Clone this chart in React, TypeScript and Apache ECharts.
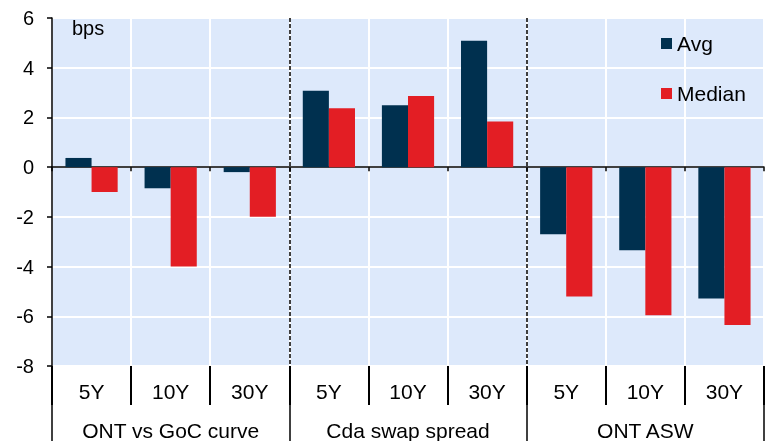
import React, { useEffect, useRef } from "react";
import * as echarts from "echarts";

const groups = ["ONT vs GoC curve", "Cda swap spread", "ONT ASW"];
const tenors = ["5Y", "10Y", "30Y"];
const categories = groups.flatMap((g) => tenors.map((t) => g + "|" + t));
const avgValues = [0.37, -0.85, -0.2, 3.07, 2.49, 5.08, -2.7, -3.34, -5.28];
const medianValues = [-1.0, -4.0, -2.0, 2.37, 2.86, 1.84, -5.2, -5.96, -6.35];
const yTicks = { min: -8, max: 6, interval: 2 };
const unitLabel = "bps";

const FONT = "'Liberation Sans', Arial, sans-serif";

export default function App() {
  const ref = useRef<HTMLDivElement>(null);
  useEffect(() => {
    if (!ref.current) return;
    const chart = echarts.init(ref.current, null, { renderer: "svg" });
    chart.setOption({
      animation: false,
      textStyle: { fontFamily: FONT },
      grid: {
        left: 52,
        top: 18,
        width: 712,
        height: 351,
        show: true,
        backgroundColor: "#dde9fb",
        borderWidth: 0,
      },
      legend: {
        orient: "vertical",
        left: 661,
        top: 33,
        padding: 0,
        itemWidth: 11,
        itemHeight: 11,
        itemGap: 29,
        icon: "rect",
        textStyle: { fontSize: 21, color: "#000", fontFamily: FONT },
        data: ["Avg", "Median"],
      },
      graphic: [
        {
          type: "text",
          left: 72,
          top: 18,
          style: { text: unitLabel, fontSize: 20, fill: "#000", fontFamily: FONT },
        },
      ],
      xAxis: [
        {
          type: "category",
          data: categories,
          position: "bottom",
          axisLine: { show: false, onZero: false },
          axisTick: {
            show: true,
            interval: 0,
            length: 39,
            lineStyle: { color: "#000", width: 2 },
          },
          axisLabel: {
            interval: 0,
            margin: 15,
            fontSize: 21,
            color: "#000",
            fontFamily: FONT,
            formatter: (v: string) => v.split("|")[1],
          },
          splitLine: {
            show: true,
            interval: 0,
            lineStyle: { color: "#ffffff", width: 2 },
          },
        },
        {
          type: "category",
          data: groups,
          position: "bottom",
          offset: 39,
          axisLine: { show: false, onZero: false },
          axisTick: {
            show: true,
            interval: 0,
            length: 40,
            lineStyle: { color: "#000", width: 1.5 },
          },
          axisLabel: {
            interval: 0,
            margin: 15,
            fontSize: 21,
            color: "#000",
            fontFamily: FONT,
          },
          splitLine: {
            show: true,
            interval: 0,
            showMinLine: false,
            showMaxLine: false,
            lineStyle: { color: "#000", width: 1.5, type: [4, 2] },
          },
        },
        {
          type: "category",
          data: categories,
          position: "bottom",
          axisLine: { show: true, onZero: true, lineStyle: { color: "#000", width: 1.5 } },
          axisTick: {
            show: true,
            interval: 0,
            length: 4,
            lineStyle: { color: "#000", width: 1.5 },
          },
          axisLabel: { show: false },
          splitLine: { show: false },
        },
      ],
      yAxis: {
        type: "value",
        min: yTicks.min,
        max: yTicks.max,
        interval: yTicks.interval,
        axisLine: { show: true, onZero: false, lineStyle: { color: "#000", width: 1.5 } },
        axisTick: { show: true, length: 5, lineStyle: { color: "#000", width: 1.5 } },
        axisLabel: { fontSize: 20, color: "#000", margin: 18, fontFamily: FONT },
        splitLine: { show: true, lineStyle: { color: "#ffffff", width: 2 } },
      },
      series: [
        {
          name: "Avg",
          type: "bar",
          xAxisIndex: 0,
          data: avgValues,
          barGap: "0%",
          barCategoryGap: "34%",
          itemStyle: { color: "#00304f" },
        },
        {
          name: "Median",
          type: "bar",
          xAxisIndex: 0,
          data: medianValues,
          barGap: "0%",
          barCategoryGap: "34%",
          itemStyle: { color: "#e31e24" },
        },
      ],
    });
    return () => chart.dispose();
  }, []);
  return (
    <div
      ref={ref}
      style={{ position: "fixed", left: 0, top: 0, width: 777, height: 441 }}
    />
  );
}
